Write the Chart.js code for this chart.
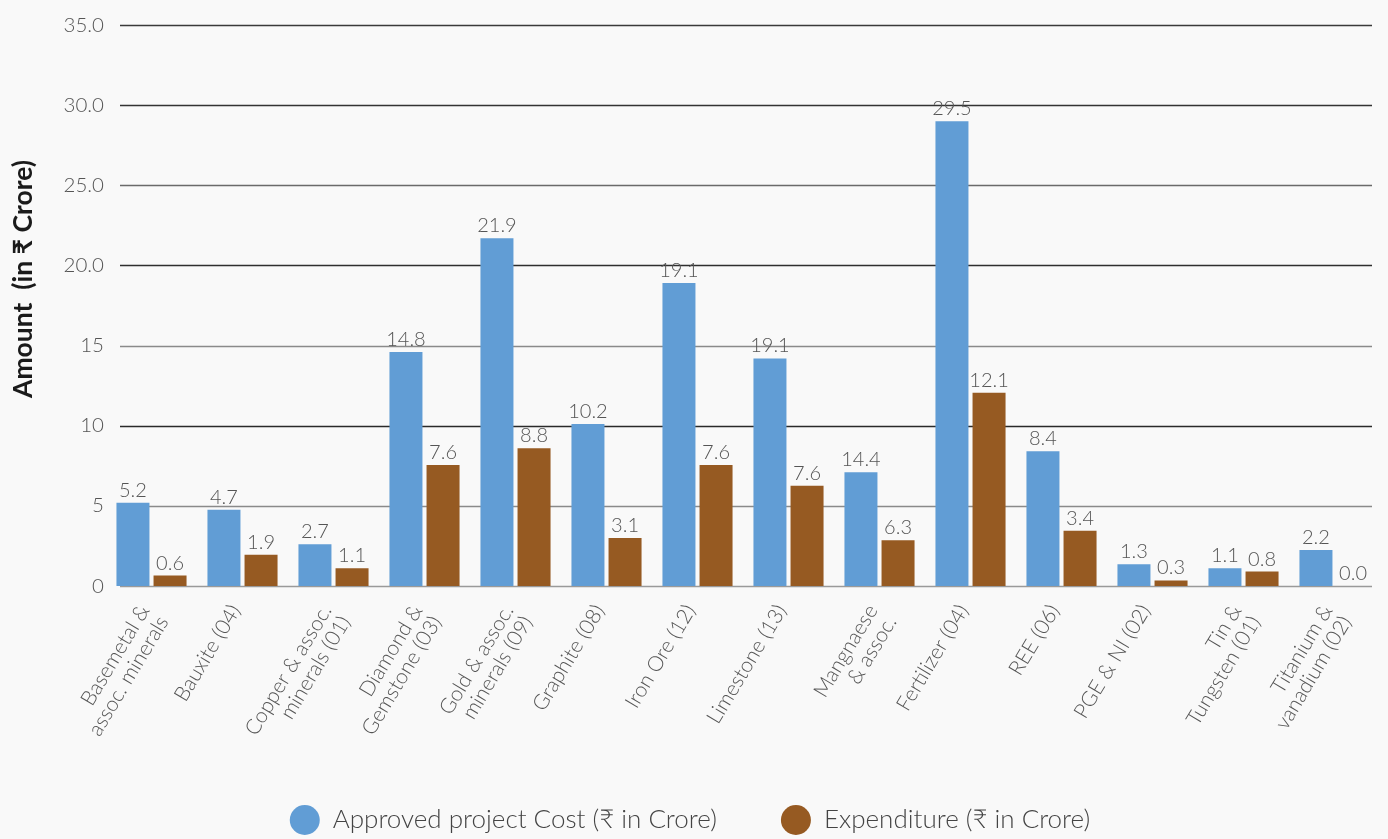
<!DOCTYPE html>
<html>
<head>
<meta charset="utf-8">
<script src="https://cdn.jsdelivr.net/npm/chart.js@4.4.0/dist/chart.umd.min.js"></script>
<style>
html,body{margin:0;padding:0;background:#f9f9f9;}
#wrap{width:1388px;height:839px;position:relative;}
</style>
</head>
<body>
<div id="wrap"><canvas id="c" width="1388" height="839"></canvas></div>
<script>
// ---- data ----
const categories = [
  ["Basemetal &", "assoc. minerals"],
  "Bauxite (04)",
  ["Copper & assoc.", "minerals (01)"],
  ["Diamond &", "Gemstone (03)"],
  ["Gold & assoc.", "minerals (09)"],
  "Graphite (08)",
  "Iron Ore (12)",
  "Limestone (13)",
  ["Mangnaese", "& assoc."],
  "Fertilizer (04)",
  "REE (06)",
  "PGE & NI (02)",
  ["Tin &", "Tungsten (01)"],
  ["Titanium &", "vanadium (02)"]
];
const approvedCost = [5.2, 4.75, 2.6, 14.6, 21.7, 10.1, 18.9, 14.2, 7.1, 29.0, 8.4, 1.35, 1.1, 2.25];
const expenditure  = [0.65, 1.95, 1.1, 7.55, 8.6, 3.0, 7.55, 6.25, 2.85, 12.05, 3.45, 0.35, 0.9, 0.0];
const approvedLabels    = ["5.2", "4.7", "2.7", "14.8", "21.9", "10.2", "19.1", "19.1", "14.4", "29.5", "8.4", "1.3", "1.1", "2.2"];
const expenditureLabels = ["0.6", "1.9", "1.1", "7.6", "8.8", "3.1", "7.6", "7.6", "6.3", "12.1", "3.4", "0.3", "0.8", "0.0"];
const yTickLabels = ["0", "5", "10", "15", "20.0", "25.0", "30.0", "35.0"];
const seriesNames = ["Approved project Cost (₹ in Crore)", "Expenditure (₹ in Crore)"];
const yAxisTitle = "Amount  (in ₹ Crore)";

const FONT = "Lato, 'Noto Sans', 'DejaVu Sans', sans-serif";
const gridColors = ["#9a9a9a", "#8a8a8a", "#2a2a2a", "#8a8a8a", "#2e2e2e", "#6a6a6a", "#333333", "#3a3a3a"];

const gridPlugin = {
  id: 'customGrid',
  beforeDatasetsDraw(chart) {
    const y = chart.scales.y;
    const ctx = chart.ctx;
    ctx.save();
    ctx.lineWidth = 1.3;
    y.ticks.forEach((t, i) => {
      const py = Math.round(y.getPixelForValue(t.value)) + 0.5;
      ctx.strokeStyle = gridColors[i] || '#666';
      ctx.beginPath();
      ctx.moveTo(chart.chartArea.left + 14, py);
      ctx.lineTo(chart.chartArea.right - 8, py);
      ctx.stroke();
    });
    ctx.restore();
  }
};

const valueLabelPlugin = {
  id: 'valueLabels',
  afterDatasetsDraw(chart) {
    const ctx = chart.ctx;
    const texts = [approvedLabels, expenditureLabels];
    ctx.save();
    ctx.font = "300 20px " + FONT;
    ctx.fillStyle = "#555555";
    ctx.textAlign = "center";
    ctx.textBaseline = "alphabetic";
    chart.data.datasets.forEach((ds, di) => {
      const meta = chart.getDatasetMeta(di);
      meta.data.forEach((bar, i) => {
        ctx.fillText(texts[di][i], bar.x, bar.y - 6);
      });
    });
    ctx.restore();
  }
};

const yTitlePlugin = {
  id: 'yTitle',
  afterDraw(chart) {
    const ctx = chart.ctx;
    ctx.save();
    ctx.translate(23, 279);
    ctx.rotate(-Math.PI / 2);
    ctx.font = "bold 26.5px " + FONT;
    ctx.fillStyle = "#1a1a1a";
    ctx.textAlign = "center";
    ctx.textBaseline = "middle";
    ctx.fillText(yAxisTitle, 0, 0);
    ctx.restore();
  }
};

new Chart(document.getElementById('c'), {
  type: 'bar',
  data: {
    labels: categories,
    datasets: [
      { label: seriesNames[0], data: approvedCost, backgroundColor: '#619dd5', borderWidth: 0 },
      { label: seriesNames[1], data: expenditure, backgroundColor: '#965a22', borderWidth: 0 }
    ]
  },
  options: {
    responsive: false,
    devicePixelRatio: 1,
    animation: false,
    categoryPercentage: 0.815,
    barPercentage: 0.89,
    layout: { padding: { top: 25, right: 8, left: 0, bottom: -4 } },
    plugins: {
      tooltip: { enabled: false },
      legend: {
        position: 'bottom',
        labels: {
          usePointStyle: true,
          pointStyle: 'circle',
          boxHeight: 21.2,
          pointStyleWidth: 30,
          padding: 64,
          color: '#444444',
          font: { family: FONT, size: 26, weight: '300' }
        }
      }
    },
    scales: {
      x: {
        grid: { display: false, drawTicks: false },
        border: { display: false },
        ticks: {
          autoSkip: false,
          minRotation: 59,
          maxRotation: 59,
          padding: 15,
          labelOffset: -7,
          color: '#555555',
          font: { family: FONT, size: 21, weight: '300', lineHeight: 1.05 }
        },
        afterFit(s) { s.height = 157; }
      },
      y: {
        min: 0,
        max: 35,
        grid: { display: false, drawTicks: false },
        border: { display: false },
        ticks: {
          stepSize: 5,
          padding: 2,
          color: '#555555',
          font: { family: FONT, size: 20.5, weight: '300' },
          callback: (v) => yTickLabels[Math.round(v / 5)]
        },
        afterFit(s) { s.width = 106; }
      }
    }
  },
  plugins: [gridPlugin, valueLabelPlugin, yTitlePlugin]
});
</script>
</body>
</html>
